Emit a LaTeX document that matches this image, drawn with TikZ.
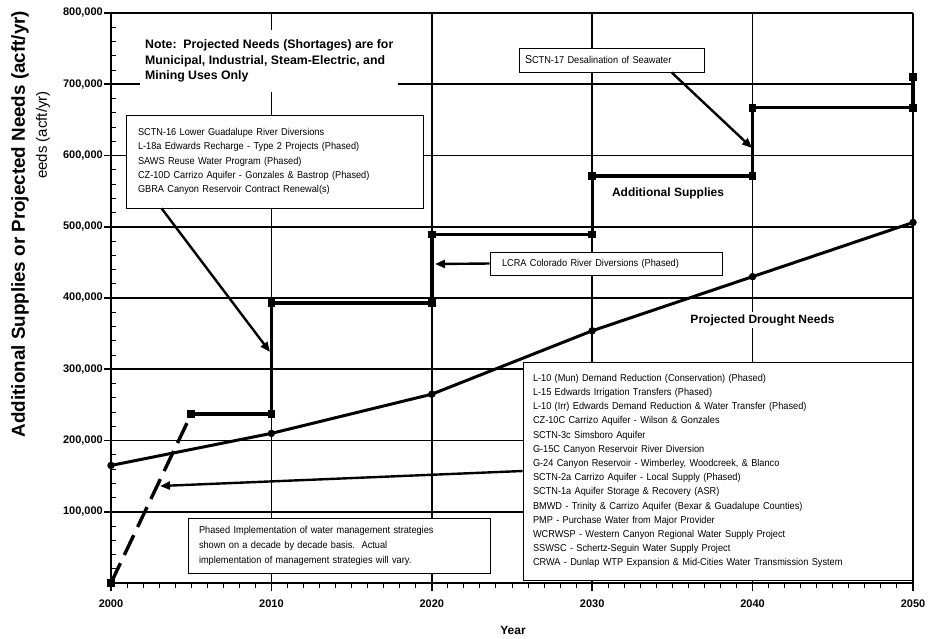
\documentclass[tikz,border=0pt]{standalone}
\usepackage{fontspec}
\setmainfont{Liberation Sans}
\newfontfamily\narrowfont[FakeStretch=0.92]{Liberation Sans}
\usetikzlibrary{positioning,arrows.meta,shadows}

\begin{document}
\begin{tikzpicture}[
    x=1pt, y=-1pt,
    grid/.style={line width=1.6pt},
    axisline/.style={line width=2.8pt},
    needs/.style={line width=3pt},
    supply/.style={line width=3.4pt},
    dot/.style={circle, fill=black, inner sep=0pt, minimum size=7.5pt},
    sq/.style={rectangle, fill=black, inner sep=0pt, minimum size=7.5pt},
    infobox/.style={rectangle, draw, line width=0.8pt, fill=white, align=left,
                font=\narrowfont\fontsize{10}{14.3}\selectfont,
                general shadow={fill=black!45, shadow xshift=1.3pt, shadow yshift=-1.3pt}},
    chartlabel/.style={font=\bfseries\fontsize{12}{14}\selectfont, fill=white, inner sep=2pt},
    ticklab/.style={font=\bfseries\fontsize{11}{13}\selectfont, inner sep=1pt},
    arrow/.style={-{Triangle[length=10pt,width=8pt]}, line width=2.4pt}
]
\useasboundingbox (0,0) rectangle (928,638);

% grid
\foreach \d in {1,...,5}
    \draw[grid] ({111+160.4*\d},13) -- ({111+160.4*\d},583);
\foreach \v in {1,...,8}
    \draw[grid] (111,{583-71.25*\v}) -- (913,{583-71.25*\v});

% axes and ticks
\draw[axisline] (111,12) -- (111,583) -- (913,583);
\foreach \v in {1,...,8}
    \draw[grid] (104,{583-71.25*\v}) -- (111,{583-71.25*\v});
\foreach \v in {1,...,40}
    \draw[line width=1pt] (111,{583-14.25*\v}) -- (116,{583-14.25*\v});
\foreach \d in {0,...,5}
    \draw[grid] ({111+160.4*\d},583) -- ({111+160.4*\d},591);
\foreach \t in {1,...,50}
    \draw[line width=1pt] ({111+16.04*\t},583) -- ({111+16.04*\t},588);

% tick labels
\foreach \v in {1,...,8}
    \node[ticklab, anchor=east] at (104,{583-71.25*\v}) {\v00,000};
\foreach \d/\yr in {0/2000,1/2010,2/2020,3/2030,4/2040,5/2050}
    \node[ticklab] at ({111+160.4*\d},604) {\yr};

% axis titles
\node[font=\bfseries\fontsize{18.8}{21}\selectfont, rotate=90] (ytitle) at (20,224)
    {Additional Supplies or Projected Needs (acft/yr)};
\node[font=\fontsize{15}{17}\selectfont, rotate=90] (yghost) at (43,135) {eeds (acft/yr)};
\node[font=\bfseries\fontsize{12}{14}\selectfont] (xtitle) at (513,630) {Year};

% projected drought needs
\foreach \yr/\val [count=\i] in {2000/165,2010/210,2020/265,2030/354,2040/430,2050/506}
    \coordinate (n\i) at ({111+(\yr-2000)*16.04},{583-\val*0.7125});
\draw[needs] (n1) -- (n2) -- (n3) -- (n4) -- (n5) -- (n6);
\foreach \i in {1,...,6}
    \node[dot] at (n\i) {};

% additional supplies
\foreach \yr/\val [count=\i from 0] in {2000/0,2005/237,2010/237,2010/393,2020/393,2020/489,
        2030/489,2030/571,2040/571,2040/667,2050/667,2050/710}
    \coordinate (s\i) at ({111+(\yr-2000)*16.04},{583-\val*0.7125});
\draw[supply, dash pattern=on 22pt off 9pt] (s0) -- (s1);
\draw[supply] (s1) -- (s2) -- (s3) -- (s4) -- (s5) -- (s6) -- (s7) -- (s8) -- (s9) -- (s10) -- (s11);
\foreach \i in {0,...,11}
    \node[sq] at (s\i) {};

% notes
\node[font=\bfseries\fontsize{12.3}{15.5}\selectfont, fill=white, align=left,
      inner xsep=5pt, inner ysep=10pt, anchor=west] (note) at (140,61)
    {Note:\ \ Projected Needs (Shortages) are for\\
     Municipal, Industrial, Steam-Electric, and\\
     Mining Uses Only};

\node[infobox, text width=273pt, inner xsep=12pt, minimum height=93pt] (sctnbox) at (274.5,161.5)
    {SCTN-16 Lower Guadalupe River Diversions\\
     L-18a Edwards Recharge - Type 2 Projects (Phased)\\
     SAWS Reuse Water Program (Phased)\\
     CZ-10D Carrizo Aquifer - Gonzales \& Bastrop (Phased)\\
     GBRA Canyon Reservoir Contract Renewal(s)};

\node[infobox, text width=173pt, inner xsep=6pt, minimum height=24pt] (desalbox) at (611.5,60)
    {{\fontsize{11.5}{14}\selectfont S}CTN-17 Desalination of Seawater};

\node[infobox, text width=208pt, inner xsep=12pt, minimum height=23pt] (lcrabox) at (606,263.5)
    {LCRA Colorado River Diversions (Phased)};

\node[infobox, text width=369pt, inner xsep=10pt, minimum height=218pt,
      font=\narrowfont\fontsize{10}{14.2}\selectfont] (localbox) at (717.5,471)
    {L-10 (Mun) Demand Reduction (Conservation) (Phased)\\
     L-15 Edwards Irrigation Transfers (Phased)\\
     L-10 (Irr) Edwards Demand Reduction \& Water Transfer (Phased)\\
     CZ-10C Carrizo Aquifer - Wilson \& Gonzales\\
     SCTN-3c Simsboro Aquifer\\
     G-15C Canyon Reservoir River Diversion\\
     G-24 Canyon Reservoir - Wimberley, Woodcreek, \& Blanco\\
     SCTN-2a Carrizo Aquifer - Local Supply (Phased)\\
     SCTN-1a Aquifer Storage \& Recovery (ASR)\\
     BMWD - Trinity \& Carrizo Aquifer (Bexar \& Guadalupe Counties)\\
     PMP - Purchase Water from Major Provider\\
     WCRWSP - Western Canyon Regional Water Supply Project\\
     SSWSC - Schertz-Seguin Water Supply Project\\
     CRWA - Dunlap WTP Expansion \& Mid-Cities Water Transmission System};

\node[infobox, text width=280pt, inner xsep=11pt, minimum height=55pt,
      font=\narrowfont\fontsize{10}{15}\selectfont] (phasebox) at (339,545.5)
    {Phased Implementation of water management strategies\\
     shown on a decade by decade basis.\ \ Actual\\
     implementation of management strategies will vary.};

\node[chartlabel] (suplabel) at (668,193) {Additional Supplies};
\node[chartlabel] (needlabel) at (762.5,320) {Projected Drought Needs};

% arrows
\coordinate (sctntip) at (270,352);
\coordinate (desaltip) at (752,148);
\coordinate (lcratip) at (435,264);
\coordinate (localtip) at (160,486);
\draw[arrow] ([xshift=36pt]sctnbox.south west) -- (sctntip);
\draw[arrow] ([xshift=153pt]desalbox.south west) -- (desaltip);
\draw[arrow] (lcrabox.west) -- (lcratip);
\draw[arrow] (localbox.west) -- (localtip);
\end{tikzpicture}
\end{document}
